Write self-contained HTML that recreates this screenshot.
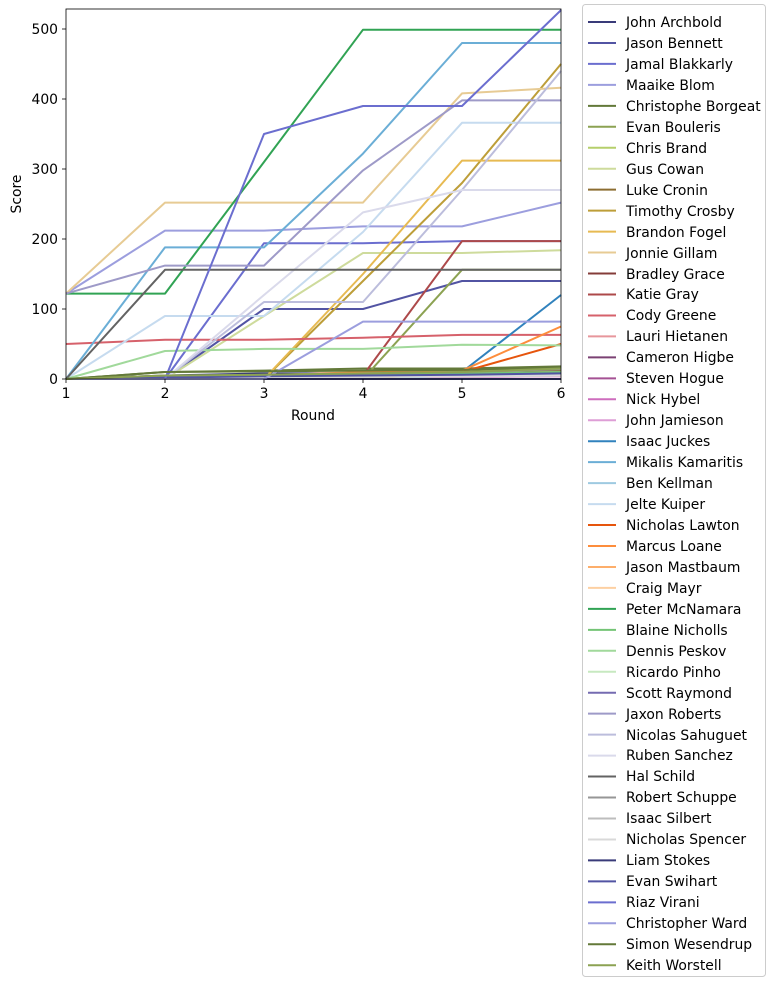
<!DOCTYPE html>
<html><head><meta charset="utf-8"><style>
html,body{margin:0;padding:0;background:#fff;}
svg{display:block;font-family:"DejaVu Sans","Liberation Sans",sans-serif;}
</style></head><body>
<svg id="s" width="776" height="987" viewBox="0 0 776 987" xmlns="http://www.w3.org/2000/svg">
<g id="data" fill="none" stroke-width="2" stroke-linejoin="round"></g>
<rect x="66" y="9" width="495" height="370" fill="none" stroke="#000" stroke-width="0.8"/>
<g stroke="#000" stroke-width="0.8">
<line x1="66" y1="379" x2="66" y2="383"/><line x1="165" y1="379" x2="165" y2="383"/><line x1="264" y1="379" x2="264" y2="383"/><line x1="363" y1="379" x2="363" y2="383"/><line x1="462" y1="379" x2="462" y2="383"/><line x1="561" y1="379" x2="561" y2="383"/>
<line x1="62" y1="379" x2="66" y2="379"/><line x1="62" y1="309" x2="66" y2="309"/><line x1="62" y1="239" x2="66" y2="239"/><line x1="62" y1="169" x2="66" y2="169"/><line x1="62" y1="99" x2="66" y2="99"/><line x1="62" y1="29" x2="66" y2="29"/>
</g>
<g font-size="13.9" fill="#000" text-anchor="middle">
<text x="66" y="398">1</text><text x="165" y="398">2</text><text x="264" y="398">3</text><text x="363" y="398">4</text><text x="462" y="398">5</text><text x="561" y="398">6</text>
<text x="313" y="420">Round</text>
</g>
<g font-size="13.9" fill="#000" text-anchor="end">
<text x="58" y="384">0</text><text x="58" y="314">100</text><text x="58" y="244">200</text><text x="58" y="174">300</text><text x="58" y="104">400</text><text x="58" y="34">500</text>
</g>
<text x="21" y="194" font-size="13.9" text-anchor="middle" transform="rotate(-90 21 194)">Score</text>
<rect x="582.5" y="4.5" width="183" height="972" rx="3" fill="#fff" fill-opacity="0.8" stroke="#ccc"/>
<g id="leg" font-size="13.9" fill="#000">
<text x="626" y="27">John Archbold</text>
<text x="626" y="48">Jason Bennett</text>
<text x="626" y="69">Jamal Blakkarly</text>
<text x="626" y="90">Maaike Blom</text>
<text x="626" y="111">Christophe Borgeat</text>
<text x="626" y="132">Evan Bouleris</text>
<text x="626" y="153">Chris Brand</text>
<text x="626" y="174">Gus Cowan</text>
<text x="626" y="195">Luke Cronin</text>
<text x="626" y="216">Timothy Crosby</text>
<text x="626" y="237">Brandon Fogel</text>
<text x="626" y="258">Jonnie Gillam</text>
<text x="626" y="279">Bradley Grace</text>
<text x="626" y="299">Katie Gray</text>
<text x="626" y="320">Cody Greene</text>
<text x="626" y="341">Lauri Hietanen</text>
<text x="626" y="362">Cameron Higbe</text>
<text x="626" y="383">Steven Hogue</text>
<text x="626" y="404">Nick Hybel</text>
<text x="626" y="425">John Jamieson</text>
<text x="626" y="446">Isaac Juckes</text>
<text x="626" y="467">Mikalis Kamaritis</text>
<text x="626" y="488">Ben Kellman</text>
<text x="626" y="509">Jelte Kuiper</text>
<text x="626" y="530">Nicholas Lawton</text>
<text x="626" y="551">Marcus Loane</text>
<text x="626" y="572">Jason Mastbaum</text>
<text x="626" y="593">Craig Mayr</text>
<text x="626" y="614">Peter McNamara</text>
<text x="626" y="635">Blaine Nicholls</text>
<text x="626" y="656">Dennis Peskov</text>
<text x="626" y="677">Ricardo Pinho</text>
<text x="626" y="698">Scott Raymond</text>
<text x="626" y="719">Jaxon Roberts</text>
<text x="626" y="740">Nicolas Sahuguet</text>
<text x="626" y="760">Ruben Sanchez</text>
<text x="626" y="781">Hal Schild</text>
<text x="626" y="802">Robert Schuppe</text>
<text x="626" y="823">Isaac Silbert</text>
<text x="626" y="844">Nicholas Spencer</text>
<text x="626" y="865">Liam Stokes</text>
<text x="626" y="886">Evan Swihart</text>
<text x="626" y="907">Riaz Virani</text>
<text x="626" y="928">Christopher Ward</text>
<text x="626" y="949">Simon Wesendrup</text>
<text x="626" y="970">Keith Worstell</text>
</g>
<g id="legl" stroke-width="2"></g>
</svg>
<script>
var cols=["#393b79","#5254a3","#6b6ecf","#9c9ede","#637939","#8ca252","#b5cf6b","#cedb9c","#8c6d31","#bd9e39","#e7ba52","#e7cb94","#843c39","#ad494a","#d6616b","#e7969c","#7b4173","#a55194","#ce6dbd","#de9ed6","#3182bd","#6baed6","#9ecae1","#c6dbef","#e6550d","#fd8d3c","#fdae6b","#fdd0a2","#31a354","#74c476","#a1d99b","#c7e9c0","#756bb1","#9e9ac8","#bcbddc","#dadaeb","#636363","#969696","#bdbdbd","#d9d9d9"];
for(var i=0;i<6;i++)cols.push(cols[i]);
var data=[
[0,5,8,8,10,12],[0,0,100,100,140,140],[0,0,194,194,197,197],[122,212,212,218,218,252],
[0,10,12,15,15,18],[0,0,0,0,156,156],[0,2,4,6,8,10],[0,0,90,180,180,184],
[0,3,5,7,9,12],[0,0,0,140,280,450],[0,0,0,150,312,312],[122,252,252,252,408,416],
[0,2,3,5,6,8],[0,0,0,5,197,197],[50,56,56,59,63,63],[0,1,2,3,4,5],
[0,1,2,3,4,6],[0,1,2,3,4,5],[0,1,2,2,3,4],[0,1,1,2,3,4],
[0,0,0,0,10,120],[0,188,188,322,480,480],[0,0,0,0,5,8],[0,90,90,210,366,366],
[0,0,0,0,10,50],[0,0,5,10,12,75],[0,2,4,6,8,10],[0,1,2,3,4,6],
[122,122,310,499,499,499],[0,2,4,6,8,10],[0,40,43,43,49,48],[0,1,2,3,4,5],
[0,0,0,0,0,0],[122,162,162,298,398,398],[0,0,110,110,270,440],[0,0,120,238,270,270],
[0,156,156,156,156,156],[0,3,6,8,10,14],[0,1,2,3,4,5],[0,1,2,3,4,5],
[0,0,0,0,0,0],[0,2,4,5,6,8],[0,0,350,390,390,527],[0,0,0,82,82,82],
[0,10,11,12,13,16],[0,5,6,8,10,15]];
var g=document.getElementById('data'),l=document.getElementById('legl'),ns="http://www.w3.org/2000/svg";
for(var k=0;k<46;k++){
 var p=document.createElementNS(ns,'polyline');
 p.setAttribute('points',data[k].map(function(v,r){return (66+r*99)+','+Math.max(9,379-0.7*v)}).join(' '));
 p.setAttribute('stroke',cols[k]);g.appendChild(p);
 var y=22+20.96*k,ln=document.createElementNS(ns,'line');
 ln.setAttribute('x1',588);ln.setAttribute('x2',616);ln.setAttribute('y1',y);ln.setAttribute('y2',y);
 ln.setAttribute('stroke',cols[k]);l.appendChild(ln);
}
</script>
</body></html>
